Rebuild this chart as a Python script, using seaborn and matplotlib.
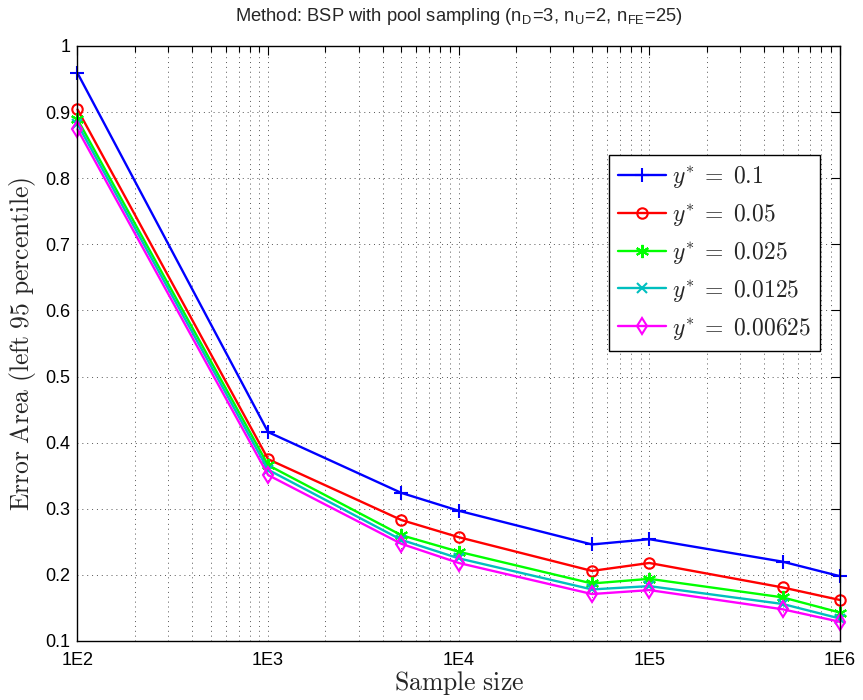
import numpy as np
import pandas as pd
import matplotlib
matplotlib.use("Agg")
import matplotlib.pyplot as plt
import matplotlib.ticker as mticker
import seaborn as sns

# Sample sizes and error areas for each target level y*
sample_sizes = [1e2, 1e3, 5e3, 1e4, 5e4, 1e5, 5e5, 1e6]
err_01 = [0.959, 0.416, 0.324, 0.297, 0.246, 0.254, 0.220, 0.198]
err_005 = [0.904, 0.375, 0.283, 0.257, 0.206, 0.218, 0.181, 0.162]
err_0025 = [0.889, 0.366, 0.260, 0.235, 0.187, 0.194, 0.166, 0.143]
err_00125 = [0.882, 0.359, 0.253, 0.225, 0.178, 0.183, 0.156, 0.134]
err_000625 = [0.874, 0.351, 0.247, 0.218, 0.171, 0.177, 0.148, 0.129]

series_labels = [r"$y^{*}\;=\;0.1$", r"$y^{*}\;=\;0.05$", r"$y^{*}\;=\;0.025$",
                 r"$y^{*}\;=\;0.0125$", r"$y^{*}\;=\;0.00625$"]
series_values = [err_01, err_005, err_0025, err_00125, err_000625]
x_tick_values = [1e2, 1e3, 1e4, 1e5, 1e6]
x_tick_labels = ["1E2", "1E3", "1E4", "1E5", "1E6"]
y_tick_values = [0.1, 0.2, 0.3, 0.4, 0.5, 0.6, 0.7, 0.8, 0.9, 1.0]
y_tick_labels = ["0.1", "0.2", "0.3", "0.4", "0.5", "0.6", "0.7", "0.8", "0.9", "1"]

sns.set_style("white")
plt.rcParams["font.family"] = ["Liberation Sans", "DejaVu Sans"]
plt.rcParams["mathtext.fontset"] = "cm"

colors = ["#0000ff", "#ff0000", "#00ff00", "#00bfbf", "#ff00ff"]
markers = ["+", "o", (6, 2, 0), "x", "d"]
msizes = [10.5, 7.5, 9.5, 7.5, 8.5]

fig = plt.figure(figsize=(8.63, 7.0), dpi=100)
ax = fig.add_axes([0.0898, 0.0843, 0.8835, 0.85])

for lab, vals, c, m, ms in zip(series_labels, series_values, colors, markers, msizes):
    df = pd.DataFrame({"n": sample_sizes, "err": vals})
    sns.lineplot(data=df, x="n", y="err", ax=ax, color=c, marker=m,
                 markersize=ms, markerfacecolor="none", markeredgecolor=c,
                 markeredgewidth=1.5, linewidth=1.7, label=lab, clip_on=False)

ax.set_xscale("log")
ax.set_xlim(1e2, 1e6)
ax.set_ylim(0.1, 1.0)
ax.set_xticks(x_tick_values)
ax.set_xticklabels(x_tick_labels)
ax.xaxis.set_minor_locator(mticker.LogLocator(base=10, subs=np.arange(2, 10)))
ax.xaxis.set_minor_formatter(mticker.NullFormatter())
ax.set_yticks(y_tick_values)
ax.set_yticklabels(y_tick_labels)

ax.grid(True, which="major", axis="both", linestyle=(0, (1, 4)), color="#555555", linewidth=0.7)
ax.grid(True, which="minor", axis="x", linestyle=(0, (1, 4)), color="#555555", linewidth=0.7)

ax.tick_params(axis="both", which="both", direction="in", top=True, right=True,
               labelsize=13, colors="black")
ax.tick_params(axis="x", which="both", pad=8)
ax.tick_params(axis="y", which="both", pad=5)
ax.tick_params(axis="both", which="major", length=6.5, width=0.8)
ax.tick_params(axis="x", which="minor", length=4, width=0.8)
for sp in ax.spines.values():
    sp.set_color("black")
    sp.set_linewidth(1.0)

ax.set_xlabel(r"$\mathrm{Sample\ size}$", fontsize=18.5, labelpad=0)
ax.set_ylabel(r"$\mathrm{Error\ Area\ (left\ 95\ percentile)}$", fontsize=18.5, labelpad=5)

fig.text(0.5316, 0.977,
         r"Method: BSP with pool sampling (n$_\mathregular{D}$=3, n$_\mathregular{U}$=2, n$_\mathregular{FE}$=25)",
         ha="center", va="center", fontsize=13.2,
         family=["Liberation Sans", "DejaVu Sans"])

leg = ax.legend(loc="upper right", bbox_to_anchor=(0.974, 0.817), fontsize=17,
                frameon=True, fancybox=False, edgecolor="black", framealpha=1,
                handlelength=2.0, labelspacing=0.5, borderpad=0.4, handletextpad=0.25,
                borderaxespad=0)
leg.get_frame().set_linewidth(1.0)

fig.savefig("out.png", dpi=100)
